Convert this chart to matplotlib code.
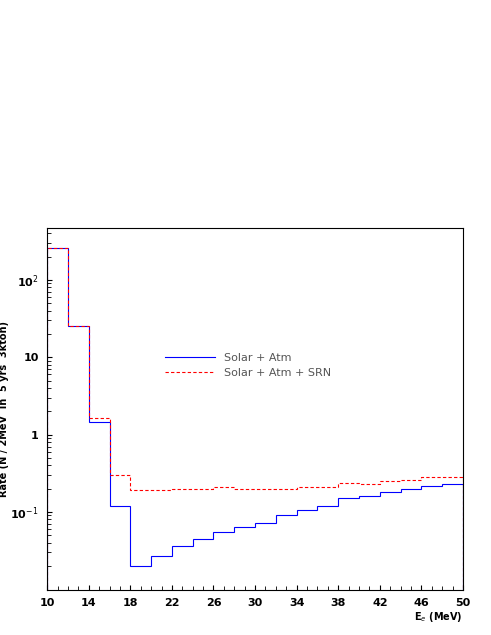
import numpy as np
import matplotlib
matplotlib.use("Agg")
from matplotlib import pyplot as plt
from matplotlib.lines import Line2D

edges = np.arange(10, 52, 2)
solar_atm = [260, 25, 1.47, 0.12, 0.020, 0.027, 0.036, 0.045, 0.055, 0.063,
             0.072, 0.090, 0.106, 0.12, 0.15, 0.16, 0.18, 0.20, 0.215, 0.23]
solar_atm_srn = [260, 25, 1.65, 0.30, 0.19, 0.19, 0.20, 0.20, 0.21, 0.20,
                 0.20, 0.20, 0.21, 0.21, 0.24, 0.23, 0.25, 0.26, 0.28, 0.28]

fig = plt.figure(figsize=(4.91, 6.35), dpi=100)
ax = fig.add_axes([0.096, 0.071, 0.847, 0.570])

ax.stairs(solar_atm, edges, color="blue", linewidth=0.8)
ax.stairs(solar_atm_srn, edges, color="red", linestyle=(0, (3, 2)), linewidth=0.8)

ax.set_yscale("log")
ax.set_xlim(10, 50)
ax.set_ylim(0.0098, 470)
ax.set_xticks(np.arange(10, 51, 4))
ax.set_xticks(np.arange(10, 51, 1), minor=True)
ax.set_yticks([0.1, 1, 10, 100])
ax.set_yticklabels(["10$^{-1}$", "1", "10", "10$^{2}$"])
ax.tick_params(direction="in", labelsize=8, which="both", top=False, right=False, pad=6)
ax.tick_params(axis="y", which="minor", length=3)
ax.tick_params(axis="x", which="minor", length=3)
for lab in ax.get_xticklabels() + ax.get_yticklabels():
    lab.set_fontweight("bold")

ax.set_ylabel("Rate (N / 2MeV  in  5 yrs  3kton)", fontsize=7, fontweight="bold", labelpad=1)
ax.set_xlabel("E$_e$ (MeV)", fontsize=7, fontweight="bold", loc="right", labelpad=1)

handles = [Line2D([], [], color="blue", linewidth=0.8),
           Line2D([], [], color="red", linestyle=(0, (3, 2)), linewidth=0.8)]
ax.legend(handles, ["Solar + Atm", "Solar + Atm + SRN"], frameon=False,
          loc="center left", bbox_to_anchor=(0.26, 0.62), fontsize=8,
          handlelength=4.5, labelcolor="#555555")

fig.savefig("out.png", dpi=100)
